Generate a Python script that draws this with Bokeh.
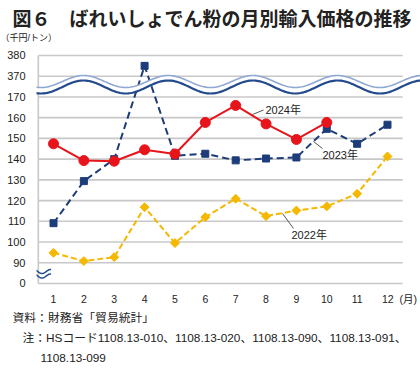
import numpy as np
from bokeh.plotting import figure
from bokeh.models import Range1d, FixedTicker, Label, PolyAnnotation, Title
from bokeh.embed import file_html
from bokeh.resources import INLINE

# ---------------- data ----------------
months = [1, 2, 3, 4, 5, 6, 7, 8, 9, 10, 11, 12]
month_labels = ["1", "2", "3", "4", "5", "6", "7", "8", "9", "10", "11", "12"]
y_tick_values = [0, 90, 100, 110, 120, 130, 140, 150, 160, 170, 370, 380]
y_tick_labels = ["0", "90", "100", "110", "120", "130", "140", "150", "160", "170", "370", "380"]

price_2022 = [94.8, 90.8, 92.7, 116.8, 99.5, 112.0, 120.9, 112.5, 115.2, 117.2, 123.3, 141.3]
price_2023 = [109.1, 129.4, 140.0, 375.0, 141.6, 142.6, 139.4, 140.3, 140.8, 154.6, 147.4, 156.6]
months_2024 = [1, 2, 3, 4, 5, 6, 7, 8, 9, 10]
price_2024 = [147.4, 139.3, 139.0, 144.5, 142.5, 157.7, 165.9, 157.0, 149.5, 157.7]

series_names = ["2022年", "2023年", "2024年"]

title_text = "図６　ばれいしょでん粉の月別輸入価格の推移"
unit_text = "（千円/トン）"
month_unit = "(月)"
source_text = "資料：財務省「貿易統計」"
note_line1 = "注：HSコード1108.13-010、1108.13-020、1108.13-090、1108.13-091、"
note_line2 = "1108.13-099"

# ---------------- styles ----------------
RED = "#e8141b"
NAVY = "#1d3c7a"
GOLD = "#f5b800"
GRID = "#c8c8c8"
TXT = "#222222"
WAVE_DARK = "#234a8c"
WAVE_LIGHT = "#8ea8d2"
NUM_FONT = "Liberation Sans, Noto Sans CJK JP"

slots = np.arange(len(y_tick_values))


def to_axis(vals):
    return list(np.interp(vals, y_tick_values, slots))


FIG_W, FIG_H = 420, 368
MB_L, MB_R, MB_T, MB_B = 36, 0, 45, 78
X0, X1 = 0.44, 13.087
Y0, Y1 = -0.338, 11.482
FRAME_L = MB_L
FRAME_B = FIG_H - MB_B
PPX = (FIG_W - MB_L - MB_R) / (X1 - X0)
PPY = (FIG_H - MB_T - MB_B) / (Y1 - Y0)


def dx(px):
    return X0 + (px - FRAME_L) / PPX


def dy(py):
    return Y0 + (FRAME_B - py) / PPY


p = figure(width=FIG_W, height=FIG_H, output_backend="svg", toolbar_location=None,
           x_range=Range1d(X0, X1), y_range=Range1d(Y0, Y1),
           min_border_left=MB_L, min_border_right=MB_R,
           min_border_top=MB_T, min_border_bottom=MB_B)
p.outline_line_color = None
p.background_fill_color = "white"
p.border_fill_color = "white"
p.xgrid.visible = False
p.ygrid.visible = False

# title and unit (above the frame)
p.title.text = title_text
p.title.align = "left"
p.title.offset = -24
p.title.standoff = 0
p.title.text_font = NUM_FONT
p.title.text_font_size = "19px"
p.title.text_font_style = "bold"
p.title.text_color = TXT
p.add_layout(Title(text=unit_text, align="left", offset=-36, standoff=4.3,
                   text_font=NUM_FONT, text_font_size="9px", text_font_style="normal",
                   text_color=TXT), "above")

# axes
p.yaxis.ticker = FixedTicker(ticks=list(slots))
p.yaxis.major_label_overrides = {int(i): lab for i, lab in zip(slots, y_tick_labels)}
p.xaxis.ticker = FixedTicker(ticks=months)
x_overrides = {m: lab for m, lab in zip(months, month_labels)}
# last month label carries the unit; padded so that the number stays centred
x_overrides[months[-1]] = "\u3000\u3000\u00a0" + month_labels[-1] + "\u00a0\u00a0" + month_unit
p.xaxis.major_label_overrides = x_overrides
for ax in (p.xaxis, p.yaxis):
    ax.axis_line_color = None
    ax.major_tick_line_color = None
    ax.minor_tick_line_color = None
    ax.major_tick_out = 0
    ax.major_tick_in = 0
    ax.major_label_text_color = TXT
p.yaxis.major_label_text_font = "Liberation Sans"
p.xaxis.major_label_text_font = NUM_FONT
p.yaxis.major_label_text_font_size = "11px"
p.xaxis.major_label_text_font_size = "10.5px"
p.yaxis.major_label_standoff = 11
p.xaxis.major_label_standoff = 2

xl, xr = months[0] - 0.5, months[-1] + 0.5
p.segment(x0=xl, x1=xr, y0=list(slots), y1=list(slots), line_color=GRID, line_width=1.6)
p.segment(x0=[xl], x1=[xl], y0=[slots[0]], y1=[slots[-1]], line_color=GRID, line_width=1.6)

p.line(months, to_axis(price_2022), line_color=GOLD, line_width=2, line_dash="6 3")
p.scatter(months, to_axis(price_2022), marker="square", angle=np.pi / 4, size=6.3,
          fill_color=GOLD, line_color=GOLD)
p.line(months, to_axis(price_2023), line_color=NAVY, line_width=2, line_dash="7 4")
p.scatter(months, to_axis(price_2023), marker="square", size=7,
          fill_color=NAVY, line_color=NAVY)
p.line(months_2024, to_axis(price_2024), line_color=RED, line_width=2)
p.scatter(months_2024, to_axis(price_2024), marker="circle", size=10,
          fill_color=RED, line_color=RED)

label_pos = {"2024年": (265, 109), "2023年": (322, 154), "2022年": (291, 234)}
leaders = [((252, 114), (263, 109.5)), ((313, 141), (322, 148)), ((282, 213), (293, 228))]
p.segment(x0=[dx(a[0]) for a, b in leaders], y0=[dy(a[1]) for a, b in leaders],
          x1=[dx(b[0]) for a, b in leaders], y1=[dy(b[1]) for a, b in leaders],
          line_color="#555555", line_width=1)
for name in series_names:
    px, py = label_pos[name]
    p.add_layout(Label(x=dx(px), y=dy(py), text=name, text_font=NUM_FONT,
                       text_font_size="11px", text_color=TXT, text_baseline="middle",
                       text_align="left"))

# wavy break band (canvas pixel units)
wx = np.arange(-12, 434, 1.5)
ph = 2 * np.pi * (wx - 83) / 84.7
light = 81 - 6.0 * np.cos(ph)
dark = 86.5 - 6.5 * np.cos(ph)
wxl = list(wx)
p.add_layout(PolyAnnotation(xs=wxl + wxl[::-1], ys=list(light) + list(dark[::-1]),
                            xs_units="canvas", ys_units="canvas",
                            fill_color="white", fill_alpha=1, line_alpha=0))
p.add_layout(PolyAnnotation(xs=wxl + wxl[::-1], ys=list(light) + list(light[::-1]),
                            xs_units="canvas", ys_units="canvas",
                            fill_alpha=0, line_color=WAVE_LIGHT, line_alpha=1,
                            line_width=1.6, line_join="round"))
p.add_layout(PolyAnnotation(xs=wxl + wxl[::-1], ys=list(dark) + list(dark[::-1]),
                            xs_units="canvas", ys_units="canvas",
                            fill_alpha=0, line_color=WAVE_DARK, line_alpha=1,
                            line_width=2.2, line_join="round"))

bx = np.arange(27, 50.5, 0.5)
bph = 2 * np.pi * (bx - 28.75) / 17
bxl = list(bx)
for c in (271.0, 275.5):
    by = c - 2.0 * np.sin(bph)
    p.add_layout(PolyAnnotation(xs=bxl + bxl[::-1], ys=list(by) + list(by[::-1]),
                                xs_units="canvas", ys_units="canvas",
                                fill_alpha=0, line_color=WAVE_DARK, line_alpha=1,
                                line_width=1.5, line_join="round"))

# footer lines (below the x axis)
for txt, off, so in ((source_text, -24, 2), (note_line1, -14, 7), (note_line2, 4, 7)):
    p.add_layout(Title(text=txt, align="left", offset=off, standoff=so,
                       text_font=NUM_FONT, text_font_size="11.8px",
                       text_font_style="normal", text_color=TXT), "below")

open("out.html", "w").write(file_html(p, INLINE))
